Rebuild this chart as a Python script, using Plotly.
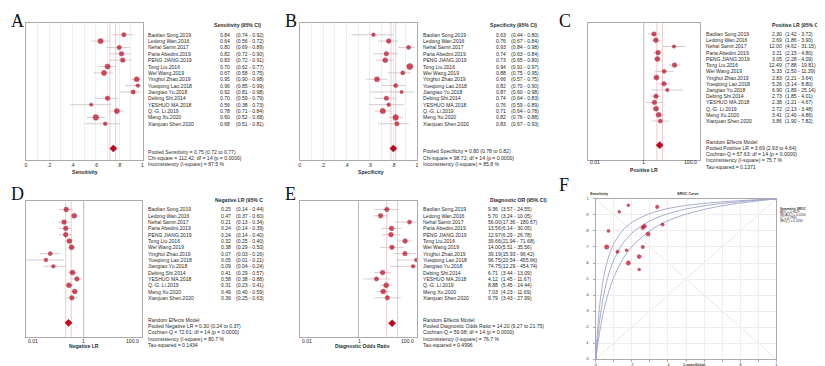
import plotly.graph_objects as go

W, H = 825, 366

# ---------------- data ----------------
studies = ["Baolian Song.2019", "Ledong Wan.2016", "Nehal Samir.2017", "Paria Abedini.2019",
           "PENG JIANG.2019", "Tong Liu.2016", "Wei Wang.2019", "Yinghui Zhao.2019",
           "Yueqiong Lao.2018", "Jiangtao Yu.2018", "Debing Shi.2014", "YESHUO MA.2018",
           "Q.-G. Li.2019", "Meng Xu.2020", "Xianjuan Shen.2020"]

sens = [0.84, 0.64, 0.80, 0.82, 0.83, 0.70, 0.67, 0.95, 0.96, 0.92, 0.70, 0.56, 0.78, 0.60, 0.68]
sens_lo = [0.74, 0.56, 0.69, 0.72, 0.72, 0.62, 0.58, 0.90, 0.85, 0.81, 0.59, 0.38, 0.71, 0.52, 0.51]
sens_hi = [0.92, 0.72, 0.89, 0.90, 0.91, 0.77, 0.75, 0.98, 0.99, 0.98, 0.79, 0.73, 0.84, 0.68, 0.81]

spec = [0.63, 0.76, 0.93, 0.74, 0.73, 0.94, 0.88, 0.66, 0.82, 0.87, 0.74, 0.76, 0.71, 0.82, 0.83]
spec_lo = [0.44, 0.67, 0.84, 0.63, 0.65, 0.91, 0.75, 0.57, 0.70, 0.60, 0.64, 0.59, 0.64, 0.76, 0.67]
spec_hi = [0.80, 0.84, 0.98, 0.84, 0.80, 0.97, 0.95, 0.75, 0.90, 0.98, 0.83, 0.89, 0.78, 0.88, 0.93]

plr = [2.30, 2.69, 12.00, 3.21, 3.05, 12.49, 5.33, 2.83, 5.26, 6.90, 2.73, 2.38, 2.72, 3.41, 3.86]
plr_lo = [1.42, 1.86, 4.62, 2.15, 2.28, 7.88, 2.50, 2.21, 3.14, 1.89, 1.85, 1.21, 2.13, 2.40, 1.90]
plr_hi = [3.72, 3.90, 31.15, 4.80, 4.09, 19.81, 11.39, 3.64, 8.80, 25.14, 4.01, 4.67, 3.48, 4.86, 7.82]

nlr = [0.25, 0.47, 0.21, 0.24, 0.24, 0.32, 0.38, 0.07, 0.05, 0.09, 0.41, 0.58, 0.31, 0.49, 0.39]
nlr_lo = [0.14, 0.37, 0.13, 0.14, 0.14, 0.25, 0.29, 0.03, 0.01, 0.04, 0.29, 0.38, 0.23, 0.40, 0.25]
nlr_hi = [0.44, 0.60, 0.34, 0.39, 0.40, 0.40, 0.50, 0.16, 0.21, 0.24, 0.57, 0.88, 0.41, 0.59, 0.63]

dor = [9.36, 5.70, 56.00, 13.56, 12.97, 39.66, 14.00, 39.19, 96.75, 74.75, 6.71, 4.12, 8.88, 7.03, 9.79]
dor_lo = [3.57, 3.24, 17.36, 6.14, 6.29, 21.94, 5.51, 15.93, 20.54, 12.29, 3.44, 1.45, 5.45, 4.23, 3.43]
dor_hi = [24.55, 10.05, 180.67, 30.05, 26.78, 71.68, 35.56, 96.42, 455.66, 454.74, 13.09, 11.67, 14.44, 11.69, 27.99]

pooled_sens = [0.75, 0.72, 0.77]
pooled_spec = [0.80, 0.78, 0.82]
pooled_plr = [3.69, 2.93, 4.64]
pooled_nlr = [0.30, 0.24, 0.37]
pooled_dor = [14.20, 9.27, 21.75]

foot_sens = ["Pooled Sensitivity = 0.75 (0.72 to 0.77)",
             "Chi-square = 112.42; df = 14 (p = 0.0000)",
             "Inconsistency (I-square) = 87.5 %"]
foot_spec = ["Pooled Specificity = 0.80 (0.78 to 0.82)",
             "Chi-square = 98.72; df = 14 (p = 0.0000)",
             "Inconsistency (I-square) = 85.8 %"]
foot_plr = ["Random Effects Model", "Pooled Positive LR = 3.69 (2.93 to 4.64)",
            "Cochran-Q = 57.63; df = 14 (p = 0.0000)", "Inconsistency (I-square) = 75.7 %",
            "Tau-squared = 0.1371"]
foot_nlr = ["Random Effects Model", "Pooled Negative LR = 0.30 (0.24 to 0.37)",
            "Cochran-Q = 72.61; df = 14 (p = 0.0000)", "Inconsistency (I-square) = 80.7 %",
            "Tau-squared = 0.1434"]
foot_dor = ["Random Effects Model", "Pooled Diagnostic Odds Ratio = 14.20 (9.27 to 21.75)",
            "Cochran-Q = 59.98; df = 14 (p = 0.0000)", "Inconsistency (I-square) = 76.7 %",
            "Tau-squared = 0.4996"]

# SROC curves
sroc_fpr = [0, 0.005, 0.01, 0.02, 0.04, 0.06, 0.08, 0.1, 0.15, 0.2, 0.3, 0.4, 0.5, 0.6, 0.7, 0.8, 0.9, 1.0]
sroc_mid = [0, 0.069, 0.130, 0.231, 0.381, 0.485, 0.562, 0.621, 0.723, 0.787, 0.864, 0.908, 0.937, 0.957, 0.972, 0.983, 0.993, 1.0]
sroc_up = [0, 0.105, 0.191, 0.323, 0.493, 0.598, 0.670, 0.722, 0.805, 0.854, 0.909, 0.940, 0.959, 0.972, 0.982, 0.989, 0.995, 1.0]
sroc_lo = [0, 0.046, 0.088, 0.162, 0.283, 0.377, 0.452, 0.513, 0.626, 0.703, 0.803, 0.864, 0.905, 0.934, 0.957, 0.974, 0.988, 1.0]
sroc_legend = ["<b>Symmetric SROC</b>", "AUC = 0.8629", "SE(AUC) = 0.0200", "Q* = 0.7935", "SE(Q*) = 0.0194"]

# ---------------- styles ----------------
size_sens = [4.4, 5.4, 4.4, 4.7, 4.7, 5.2, 5.2, 5.2, 3.8, 4.4, 4.6, 3.4, 5.2, 5.6, 3.8]
size_spec = [3.8, 4.8, 4.2, 4.6, 5.0, 6.2, 4.2, 5.2, 4.2, 3.4, 4.6, 3.8, 5.4, 5.6, 4.4]
size_plr = [4.6, 4.8, 3.6, 4.8, 5.0, 4.8, 4.2, 5.0, 4.6, 3.6, 4.6, 4.6, 5.0, 5.0, 4.2]
size_nlr = [4.8, 5.0, 4.8, 4.8, 4.8, 5.0, 5.0, 4.2, 3.8, 3.8, 5.0, 4.6, 5.0, 5.0, 4.8]
size_dor = [4.6, 4.8, 4.2, 4.8, 4.8, 4.8, 4.6, 4.6, 4.0, 3.8, 4.8, 4.4, 5.0, 5.0, 4.4]
size_sroc = [3.4, 4.2, 3.2, 3.8, 4.0, 4.6, 3.4, 3.6, 3.0, 3.0, 3.6, 3.0, 4.2, 4.4, 3.0]

RED = '#c3001c'
RED_D = '#8a0010'
CI = '#c9bfc1'
PCI = '#eab0b4'
NULL = '#a6a6a6'
BOX = '#aaaaaa'
GRID = '#eeeeee'
TXT = '#2a2a2a'
CURVE = '#9aa1c8'
FONT = 'Arial, Liberation Sans, sans-serif'
SERIF = 'Times New Roman, Liberation Serif, serif'
FS = 5.1

fig = go.Figure()
ann = []
shapes = []
layout = {}


def aid(n):
    return '' if n == 1 else str(n)


def fx(p):
    return p / W


def fy(p):
    return 1 - p / H


def txt(x, y, s, yref='paper', size=FS, anchor='left', bold=False, family=FONT, color=TXT):
    ann.append(dict(x=x, y=y, xref='paper', yref=yref, text=('<b>%s</b>' % s) if bold else s,
                    showarrow=False, xanchor=anchor, yanchor='middle', borderpad=0,
                    font=dict(size=size, color=color, family=family)))


def forest(n, P, est, lo, hi, sizes, pooled, header, foot, log, xtitle, null=None):
    a = aid(n)
    x0, x1, y0, y1 = P['box']
    r0, r14 = P['rows']
    s = (r14 - r0) / 14.0
    rt = (y0 - r0) / s
    rb = (y1 - r0) / s
    rp = (P['pooled'] - r0) / s
    xa = dict(domain=[fx(x0), fx(x1)], anchor='y' + a, showline=True, mirror=True, linecolor=BOX,
              linewidth=0.8, zeroline=False, fixedrange=True)
    if log:
        xa.update(type='log', range=[-2, 2], showticklabels=False, ticks='', showgrid=False)
    else:
        tv = [i / 10 for i in range(11)]
        tt = ['0', '', '.2', '', '.4', '', '.6', '', '.8', '', '1']
        xa.update(range=[0, 1], tickvals=tv, ticktext=tt, ticks='', showgrid=True, gridcolor=GRID,
                  gridwidth=0.6, tickfont=dict(size=FS, color=TXT, family=FONT))
    ya = dict(domain=[fy(y1), fy(y0)], range=[rb, rt], anchor='x' + a, showline=True, mirror=True,
              linecolor=BOX, linewidth=0.8, showgrid=False, zeroline=False, showticklabels=False,
              ticks='', fixedrange=True)
    layout['xaxis' + a] = xa
    layout['yaxis' + a] = ya
    xr, yr = 'x' + a, 'y' + a
    if null is not None:
        fig.add_trace(go.Scatter(x=[null, null], y=[rb, rt], mode='lines', xaxis=xr, yaxis=yr,
                                 line=dict(color=NULL, width=0.8), hoverinfo='skip'))
    fig.add_trace(go.Scatter(x=[pooled[1], pooled[1], None, pooled[2], pooled[2]],
                             y=[rt, rb, None, rt, rb], mode='lines', xaxis=xr, yaxis=yr,
                             line=dict(color=PCI, width=0.7), hoverinfo='skip'))
    xs, ys = [], []
    for i in range(len(est)):
        xs += [lo[i], hi[i], None]
        ys += [i, i, None]
    fig.add_trace(go.Scatter(x=xs, y=ys, mode='lines', xaxis=xr, yaxis=yr,
                             line=dict(color=CI, width=0.8), hoverinfo='skip'))
    fig.add_trace(go.Scatter(x=est, y=list(range(len(est))), mode='markers', xaxis=xr, yaxis=yr,
                             marker=dict(color=RED, size=sizes, line=dict(color=RED_D, width=0.4))))
    fig.add_trace(go.Scatter(x=[pooled[0]], y=[rp], mode='markers', xaxis=xr, yaxis=yr,
                             marker=dict(color=RED, size=5.5, symbol='diamond',
                                         line=dict(color=RED_D, width=0.4))))
    # row texts
    for i, name in enumerate(studies):
        txt(fx(P['names']), i, name, yref=yr)
        txt(fx(P['val'][0]), i, '%.2f' % est[i], yref=yr, anchor=P['val'][1])
        txt(fx(P['ci']), i, '(%.2f - %.2f)' % (lo[i], hi[i]), yref=yr)
    txt(fx(P['header'][0]), fy(P['header'][1]), header, bold=True)
    for k, line in enumerate(foot):
        txt(fx(P['names']), fy(P['foot'][k]), line)
    txt(fx(P['title'][0]), fy(P['title'][1]), xtitle, bold=True, anchor='center')
    if log:
        ty = P['ticky']
        txt(fx(x0 + 1), fy(ty), '0.01', anchor='left')
        txt(fx(P['one']), fy(ty), '1', anchor='center')
        txt(fx(x1 - 2), fy(ty), '100.0', anchor='right')


PA = dict(box=(17, 134, 12.7, 151.7), rows=(25, 115), pooled=140, names=138.3, val=(210.7, 'left'),
          ci=226.7, header=(205, 15), foot=[143.3, 149.3, 155.3], title=(76.5, 163.3))
PB = dict(box=(291.7, 409.3, 12.7, 151.7), rows=(25, 115), pooled=140, names=414.3, val=(487.3, 'left'),
          ci=503.3, header=(481.7, 15), foot=[142.7, 149.3, 155.7], title=(363.3, 163.3))
PC = dict(box=(581, 693.3, 12.7, 151.7), rows=(24.3, 112.3), pooled=136.7, names=698.3, val=(776.7, 'right'),
          ci=778.3, header=(765, 15), foot=[133.3, 139.3, 145.7, 152, 158.3], title=(637, 162),
          ticky=154, one=637.3)
PD = dict(box=(16.7, 133.3, 193.3, 330.7), rows=(201.7, 291), pooled=316.3, names=138.3, val=(211.7, 'left'),
          ci=226.7, header=(205.7, 191.7), foot=[313.3, 319.7, 326, 332.3, 339], title=(75, 340),
          ticky=334.3, one=75)
PE = dict(box=(292.3, 409.3, 193.3, 330.7), rows=(201.7, 291), pooled=316.7, names=414.3, val=(480, 'left'),
          ci=492.3, header=(481.7, 191.7), foot=[313.3, 319.7, 326, 332.3, 339], title=(355, 340),
          ticky=334.3, one=351.5)

forest(1, PA, sens, sens_lo, sens_hi, size_sens, pooled_sens, 'Sensitivity (95% CI)', foot_sens, False, 'Sensitivity')
forest(2, PB, spec, spec_lo, spec_hi, size_spec, pooled_spec, 'Specificity (95% CI)', foot_spec, False, 'Specificity')
forest(3, PC, plr, plr_lo, plr_hi, size_plr, pooled_plr, 'Positive LR (95% CI)', foot_plr, True, 'Positive LR', null=1)
forest(4, PD, nlr, nlr_lo, nlr_hi, size_nlr, pooled_nlr, 'Negative LR (95% C', foot_nlr, True, 'Negative LR', null=1)
forest(5, PE, dor, dor_lo, dor_hi, size_dor, pooled_dor, 'Diagnostic OR (95% CI)', foot_dor, True, 'Diagnostic Odds Ratio', null=1)

# ---------------- SROC panel ----------------
fb = (589, 770, 191, 353)
tv = [i / 10 for i in range(11)]
layout['xaxis6'] = dict(domain=[fx(fb[0]), fx(fb[1])], range=[0, 1], anchor='y6', showline=True, mirror=True,
                        linecolor=BOX, linewidth=0.8, zeroline=False, tickvals=tv,
                        ticktext=['0', '', '.2', '', '.4', '', '.6', '', '.8', '', '1'],
                        ticks='outside', ticklen=1.5, tickcolor=BOX, showgrid=True, gridcolor=GRID,
                        gridwidth=0.6, tickfont=dict(size=3.8, color=TXT, family=FONT), fixedrange=True)
layout['yaxis6'] = dict(domain=[fy(fb[3]), fy(fb[2])], range=[0, 1], anchor='x6', showline=True, mirror=True,
                        linecolor=BOX, linewidth=0.8, zeroline=False, tickvals=tv,
                        ticktext=['0', '.1', '.2', '.3', '.4', '.5', '.6', '.7', '.8', '.9', '1'],
                        ticks='outside', ticklen=1.5, tickcolor=BOX, showgrid=True, gridcolor=GRID,
                        gridwidth=0.6, tickfont=dict(size=3.8, color=TXT, family=FONT), fixedrange=True,
                        ticklabelstandoff=4)
shapes.append(dict(type='line', xref='x6 domain', yref='y6 domain', x0=0, y0=0, x1=1, y1=1,
                   line=dict(color='#dcdcdc', width=0.7), layer='below'))
shapes.append(dict(type='line', xref='x6 domain', yref='y6 domain', x0=0, y0=1, x1=1, y1=0,
                   line=dict(color='#dcdcdc', width=0.7), layer='below'))
for curve in (sroc_up, sroc_mid, sroc_lo):
    fig.add_trace(go.Scatter(x=sroc_fpr, y=curve, mode='lines', xaxis='x6', yaxis='y6',
                             line=dict(color=CURVE, width=0.9, shape='spline', smoothing=0.6),
                             hoverinfo='skip'))
fpr_pts = [round(1 - v, 2) for v in spec]
fig.add_trace(go.Scatter(x=fpr_pts, y=sens, mode='markers', xaxis='x6', yaxis='y6',
                         marker=dict(color=RED, size=size_sroc, line=dict(color=RED_D, width=0.4))))
txt(fx(592), fy(185.7), 'Sensitivity', bold=True, size=3.6, anchor='center')
txt(fx(681.7), fy(185.7), 'SROC Curve', bold=True, size=3.6, anchor='center')
txt(fx(686.7), fy(359.2), '1-specificity', bold=True, size=3.6, anchor='center')
for k, line in enumerate(sroc_legend):
    txt(fx(773), fy([201, 204, 206.8, 210.3, 213][k]), line, size=3.1)

# ---------------- panel letters ----------------
for letter, (lx, ly) in zip('ABCDEF', [(1, 11), (276, 11), (551, 11), (1, 186), (276, 186), (551, 177)]):
    txt(fx(lx), fy(ly), letter, size=18, family=SERIF, color='#111111')

fig.update_layout(width=W, height=H, autosize=False, margin=dict(l=0, r=0, t=0, b=0, pad=0),
                  paper_bgcolor='white', plot_bgcolor='white', showlegend=False,
                  annotations=ann, shapes=shapes, **layout)
fig.write_html("out.html")
